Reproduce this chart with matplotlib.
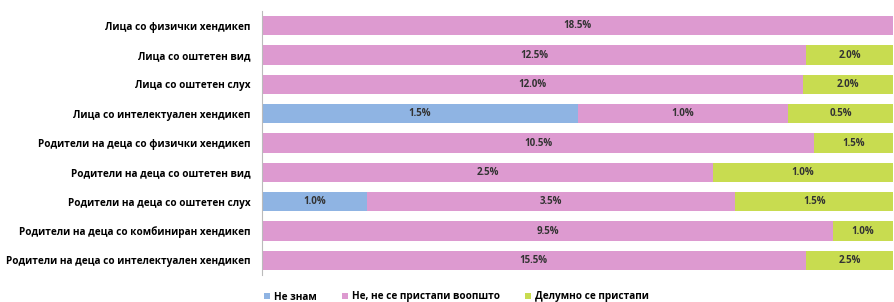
import matplotlib
matplotlib.use("Agg")
import matplotlib.pyplot as plt
import numpy as np

categories = [
    "Лица со физички хендикеп",
    "Лица со оштетен вид",
    "Лица со оштетен слух",
    "Лица со интелектуален хендикеп",
    "Родители на деца со физички хендикеп",
    "Родители на деца со оштетен вид",
    "Родители на деца со оштетен слух",
    "Родители на деца со комбиниран хендикеп",
    "Родители на деца со интелектуален хендикеп",
]
series_names = ["Не знам", "Не, не се пристапи воопшто", "Делумно се пристапи"]
ne_znam = [0.0, 0.0, 0.0, 1.5, 0.0, 0.0, 1.0, 0.0, 0.0]
ne_vopshto = [18.5, 12.5, 12.0, 1.0, 10.5, 2.5, 3.5, 9.5, 15.5]
delumno = [0.0, 2.0, 2.0, 0.5, 1.5, 1.0, 1.5, 1.0, 2.5]
colors = ["#8fb4e3", "#dd9ad0", "#c8dc50"]

plt.rcParams['font.family'] = ['Open Sans', 'DejaVu Sans']

fig = plt.figure(figsize=(8.95, 3.02), dpi=100)
ax = fig.add_axes([0.2927, 1 - 275 / 302, 0.998 - 0.2927, (275 - 11) / 302])

data = np.array([ne_znam, ne_vopshto, delumno])
totals = data.sum(axis=0)
shares = data / totals * 100
y = np.arange(len(categories))
left = np.zeros(len(categories))
for i, name in enumerate(series_names):
    bars = ax.barh(y, shares[i], left=left, height=0.66, color=colors[i], label=name)
    for j, b in enumerate(bars):
        if data[i][j] > 0:
            ax.text(left[j] + shares[i][j] / 2, y[j], f"{data[i][j]:.1f}%",
                    ha="center", va="center", fontsize=7, fontweight="bold", color="#333333")
    left += shares[i]

ax.set_xlim(0, 100)
ax.set_ylim(len(categories) - 0.5, -0.5)
ax.set_yticks(y)
ax.set_yticklabels(categories, fontsize=7.2, fontweight="bold")
ax.tick_params(axis="y", length=0, pad=8)
ax.set_xticks([])
for s in ["top", "right", "bottom"]:
    ax.spines[s].set_visible(False)
ax.spines["left"].set_color("#bbbbbb")

fig.legend(loc="center", bbox_to_anchor=(0.51, 1 - 297 / 302), ncol=3, frameon=False,
           fontsize=7.2, prop={"weight": "bold", "size": 7.2}, handlelength=0.6, handleheight=0.6,
           columnspacing=2.5, handletextpad=0.4)

fig.savefig("out.png", dpi=100)
